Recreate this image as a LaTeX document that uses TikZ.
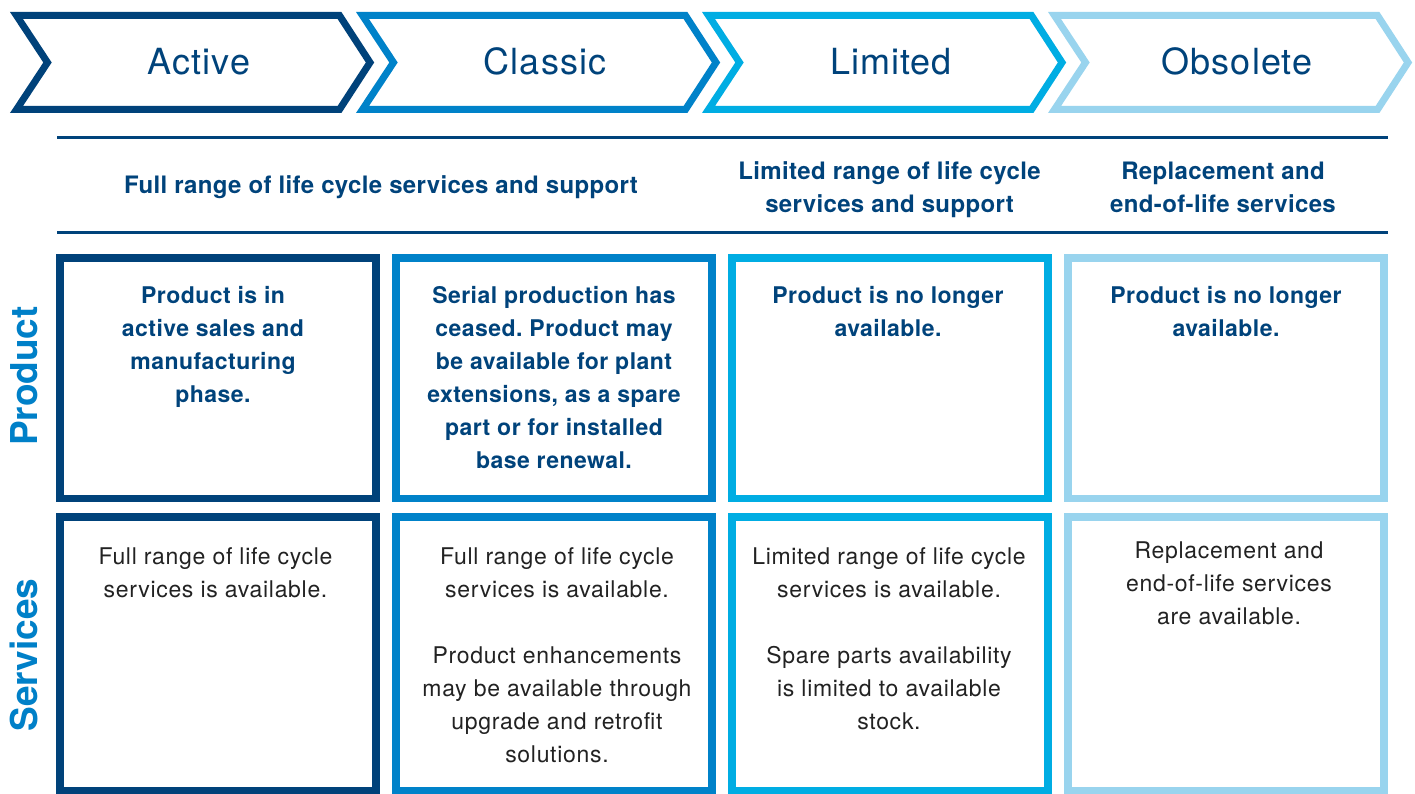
\documentclass[tikz,border=0pt]{standalone}
\usepackage{fontspec}
\setmainfont{TeX Gyre Heros}
\frenchspacing
\definecolor{cA}{HTML}{00427A}
\definecolor{cC}{HTML}{0082C9}
\definecolor{cL}{HTML}{00ADE3}
\definecolor{cO}{HTML}{99D4EE}
\definecolor{navy}{HTML}{00437B}
\definecolor{bodyc}{HTML}{222222}
\definecolor{rowc}{HTML}{0080C8}
\newcommand\fst{\rule{0pt}{20pt}}
\tikzset{
  chev/.style={line width=7pt, miter limit=20},
  chevlabel/.style={anchor=base, inner sep=0pt, text=navy,
    font=\addfontfeatures{LetterSpace=3}\fontsize{36}{40}\selectfont},
  rulel/.style={draw=navy, line width=2.5pt},
  headtxt/.style={anchor=north, inner sep=0pt, align=center, text=navy,
    font=\bfseries\addfontfeatures{LetterSpace=1.5}\fontsize{24}{32.5}\selectfont},
  cell/.style={line width=7.5pt},
  prodtxt/.style={anchor=north, inner sep=0pt, align=center, text=navy,
    font=\bfseries\addfontfeatures{LetterSpace=2}\fontsize{23}{33}\selectfont},
  servtxt/.style={anchor=north, inner sep=0pt, align=center, text=bodyc,
    font=\addfontfeatures{LetterSpace=3}\fontsize{23}{33}\selectfont},
  rowlabel/.style={anchor=base, inner sep=0pt, rotate=90, text=rowc,
    font=\bfseries\fontsize{37}{40}\selectfont}
}
\begin{document}
\begin{tikzpicture}[x=1pt,y=-1pt]
\useasboundingbox[fill=white] (0,0) rectangle (1415,794);
% chevrons
\foreach \x/\c/\t/\n in {10/cA/Active/ca, 356/cC/Classic/cc, 702/cL/Limited/cl, 1048/cO/Obsolete/co}{
  \draw[chev, draw=\c] (\x+6.5,15.5) -- (\x+329.5,15.5) -- (\x+360,62.5) -- (\x+329.5,109.5)
        -- (\x+6.5,109.5) -- (\x+37.5,62.5) -- cycle;
  \node[chevlabel] (\n) at (\x+189,75) {\t};
}
% rules
\coordinate (r1a) at (57,137.5); \coordinate (r1b) at (1388,137.5);
\coordinate (r2a) at (57,232.5); \coordinate (r2b) at (1388,232.5);
\draw[rulel] (r1a) -- (r1b);
\draw[rulel] (r2a) -- (r2b);
% headers
\node[headtxt] (h1) at (381,193-20) {\fst Full range of life cycle services and support};
\node[headtxt] (h2) at (889.5,179.5-20) {\fst Limited range of life cycle\\services and support};
\node[headtxt] (h3) at (1223,179.5-20) {\fst Replacement and\\end-of-life services};
% boxes
\foreach \x/\c in {56/cA, 392/cC, 728/cL, 1064/cO}{
  \draw[cell, draw=\c] (\x+3.75,257.75) rectangle (\x+320,498.25);
  \draw[cell, draw=\c] (\x+3.75,516.75) rectangle (\x+320,790.25);
}
% product texts
\node[prodtxt] (p1) at (213,303-20) {\fst Product is in\\active sales and\\manufacturing\\phase.};
\node[prodtxt] (p2) at (554,303-20) {\fst Serial production has\\ceased. Product may\\be available for plant\\extensions, as a spare\\part or for installed\\base renewal.};
\node[prodtxt] (p3) at (888,303-20) {\fst Product is no longer\\available.};
\node[prodtxt] (p4) at (1226,303-20) {\fst Product is no longer\\available.};
% services texts
\node[servtxt] (s1) at (215.5,564-20) {\fst Full range of life cycle\\services is available.};
\node[servtxt] (s2) at (557,564-20) {\fst Full range of life cycle\\services is available.\\[33pt]Product enhancements\\may be available through\\upgrade and retrofit\\solutions.};
\node[servtxt] (s3) at (889,564-20) {\fst Limited range of life cycle\\services is available.\\[33pt]Spare parts availability\\is limited to available\\stock.};
\node[servtxt] (s4) at (1229,558-20) {\fst Replacement and\\end-of-life services\\are available.};
% row labels
\node[rowlabel] (rp) at (37,376) {Product};
\node[rowlabel] (rs) at (37,655) {Services};
\end{tikzpicture}
\end{document}
